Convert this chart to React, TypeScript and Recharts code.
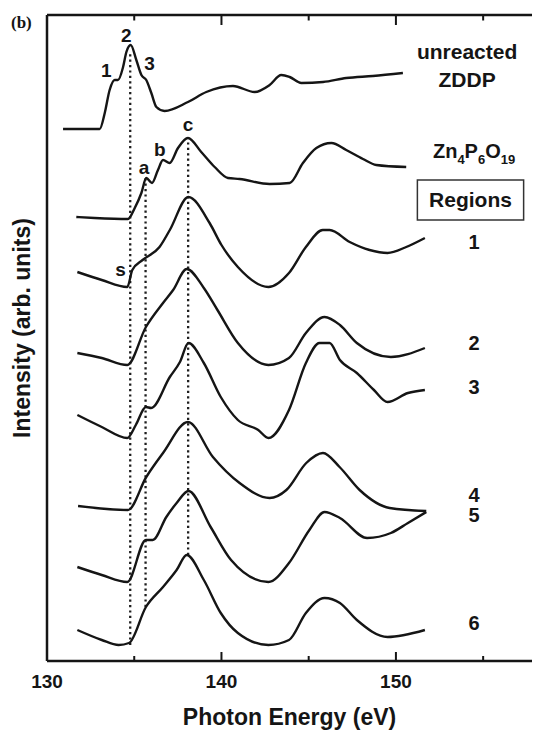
import { LineChart, Line, XAxis, YAxis, ReferenceLine, ReferenceDot, ReferenceArea } from "recharts"

const FONT = "'Liberation Sans', Arial, Helvetica, sans-serif"
const INK = "#151515"

// P L-edge XANES spectra, [photon energy (eV), offset intensity (arb. units)]
const zddp = [
  [130.92, 53.2], [133.02, 53.2], [133.31, 54.8], [133.59, 57.1], [133.88, 58.1], [134.07, 58.1],
  [134.36, 59.4], [134.55, 60.9], [134.8, 61.6], [135.12, 60.1], [135.41, 58.6], [135.69, 58.1],
  [135.98, 56.8], [136.27, 55.4], [136.74, 55.0], [138.08, 55.9], [139.13, 56.9], [140.66, 57.5],
  [141.9, 56.9], [142.76, 57.6], [143.43, 58.6], [143.91, 58.4], [144.58, 57.8], [145.82, 57.9],
  [147.15, 58.3], [148.68, 58.5], [150.4, 58.8],
]
const zn4p6o19 = [
  [131.68, 44.4], [132.73, 44.3], [134.64, 44.2], [135.03, 45.3], [135.41, 46.8], [135.69, 48.3],
  [136.02, 47.8], [136.36, 49.1], [136.65, 50.1], [137.03, 49.8], [137.51, 51.3], [138.08, 52.3],
  [138.84, 50.9], [139.61, 49.4], [140.37, 48.3], [141.04, 48.2], [142.76, 47.7], [143.91, 47.8],
  [144.67, 49.8], [145.44, 51.3], [146.3, 51.8], [147.15, 51.1], [148.11, 50.2], [148.87, 49.6],
  [150.59, 49.4],
]
const region1 = [
  [131.74, 38.9], [133.14, 38.1], [134.6, 37.4], [134.89, 39.1], [135.48, 40.1], [136.45, 41.4],
  [137.04, 43.1], [138.1, 46.4], [139.32, 43.8], [140.0, 41.6], [140.94, 39.4], [142.69, 37.4],
  [143.87, 38.8], [144.84, 41.4], [145.81, 43.1], [146.2, 43.1], [147.35, 41.9], [148.49, 41.1],
  [149.52, 40.8], [150.59, 41.4], [151.66, 42.3],
]
const region2 = [
  [131.74, 30.8], [133.14, 30.3], [134.6, 29.6], [135.67, 33.4], [136.65, 35.8], [137.23, 37.1],
  [138.01, 39.2], [138.99, 37.3], [139.77, 35.1], [140.94, 31.8], [142.69, 29.6], [143.87, 30.3],
  [144.84, 32.8], [145.91, 34.4], [146.79, 33.6], [147.76, 31.8], [149.71, 30.4], [151.66, 31.3],
]
const region3 = [
  [131.74, 24.6], [133.14, 23.4], [134.6, 22.3], [135.09, 23.6], [135.67, 25.4], [135.97, 25.3],
  [137.04, 28.4], [137.62, 29.9], [138.11, 31.8], [138.99, 29.8], [139.96, 26.4], [140.94, 24.1],
  [142.11, 23.1], [142.69, 22.3], [143.87, 25.1], [144.84, 29.8], [145.62, 31.8], [146.2, 31.8],
  [146.79, 30.1], [147.76, 28.8], [148.74, 27.1], [149.52, 25.9], [150.69, 26.8], [151.66, 27.1],
]
const region4 = [
  [131.78, 15.5], [134.64, 15.1], [135.69, 18.4], [136.65, 20.8], [138.08, 23.9], [139.51, 20.4],
  [141.04, 17.8], [142.76, 16.3], [143.72, 17.1], [144.86, 19.8], [145.82, 20.8], [146.77, 19.4],
  [147.92, 17.1], [149.64, 15.3], [151.74, 15.0],
]
const region5 = [
  [131.74, 9.4], [133.14, 8.6], [134.6, 7.9], [135.67, 12.1], [136.06, 12.1], [136.84, 14.4],
  [137.43, 15.8], [138.11, 17.0], [139.38, 13.4], [140.55, 10.1], [142.69, 7.9], [143.87, 9.8],
  [145.04, 13.1], [145.91, 14.9], [146.79, 14.3], [148.35, 12.3], [149.71, 12.8], [150.69, 13.8],
  [151.74, 14.9],
]
const region6 = [
  [131.74, 3.1], [133.14, 2.1], [134.11, 1.6], [134.7, 1.8], [135.67, 5.4], [136.65, 7.4],
  [137.43, 9.1], [138.01, 10.6], [138.99, 8.1], [139.96, 4.8], [140.94, 2.8], [142.69, 1.6],
  [143.87, 2.1], [144.84, 4.8], [145.91, 6.3], [146.79, 5.8], [147.76, 4.1], [149.52, 2.4],
  [151.66, 3.1],
]
const spectra = [zddp, zn4p6o19, region1, region2, region3, region4, region5, region6]

// dotted guide lines: [energy, lower intensity, upper intensity]
const guides = [
  [134.77, 1.6, 61.0],
  [135.65, 5.4, 48.3],
  [138.09, 10.6, 52.1],
]

// feature letters on the spectra
const featureLabels = [
  ["1", 133.4, 59.1], ["2", 134.55, 62.6], ["3", 135.88, 59.8],
  ["a", 135.56, 49.4], ["b", 136.46, 51.2], ["c", 138.08, 53.7], ["s", 134.21, 39.2],
]

const regionNames = ["1", "2", "3", "4", "5", "6"]
const regionLevels = [41.9, 31.8, 27.4, 16.6, 14.6, 3.8]
const labelEnergy = 154.48

const tickValues = [130, 135, 140, 145, 150, 155]
const tickLabels = [130, 140, 150]

const toRows = (pts: number[][]) => pts.map(([energy, intensity]) => ({ energy, intensity }))

function BottomTick(props: any) {
  const { x, y, payload } = props
  const major = tickLabels.includes(payload.value)
  return (
    <g>
      {payload.value !== 130 && (
        <line x1={x} x2={x} y1={y} y2={y - (major ? 9 : 5)} stroke={INK} strokeWidth={2} />
      )}
      {major && (
        <text x={x} y={y + 26.5} textAnchor="middle" fontSize={19} fontWeight="bold" fontFamily={FONT} fill={INK}>
          {payload.value}
        </text>
      )}
    </g>
  )
}

function TopTick(props: any) {
  const { x, y, payload } = props
  if (payload.value === 130) return <g />
  const major = tickLabels.includes(payload.value)
  return <line x1={x} x2={x} y1={y} y2={y + (major ? 10 : 5.5)} stroke={INK} strokeWidth={2} />
}

function ZnLabel(props: any) {
  const { x, y } = props.viewBox
  return (
    <text x={x} y={y} textAnchor="middle" fontSize={20} fontWeight="bold" fontFamily={FONT} fill={INK}>
      Zn<tspan fontSize={13} dy={6}>4</tspan>
      <tspan dy={-6}>P</tspan>
      <tspan fontSize={13} dy={6}>6</tspan>
      <tspan dy={-6}>O</tspan>
      <tspan fontSize={13} dy={6}>19</tspan>
    </text>
  )
}

const textStyle = { fontWeight: "bold", fontFamily: FONT, fill: INK }

export default function App() {
  return (
    <div style={{ position: "absolute", left: 0, top: 0, width: 534, height: 730, background: "#fff" }}>
      <LineChart width={534} height={730} margin={{ top: 0, right: 2, bottom: 0, left: 0 }}>
        <XAxis
          dataKey="energy"
          type="number"
          domain={[130, 157.8]}
          allowDataOverflow
          ticks={tickValues}
          interval={0}
          height={69}
          tickSize={0}
          tickMargin={0}
          tickLine={false}
          tick={<BottomTick />}
          axisLine={{ stroke: INK, strokeWidth: 2.5 }}
          label={{ value: "Photon Energy (eV)", position: "insideBottom", offset: 5, fontSize: 23, ...textStyle }}
        />
        <XAxis
          xAxisId="top"
          orientation="top"
          dataKey="energy"
          type="number"
          domain={[130, 157.8]}
          allowDataOverflow
          ticks={tickValues}
          interval={0}
          height={15}
          tickSize={0}
          tickMargin={0}
          tickLine={false}
          tick={<TopTick />}
          axisLine={{ stroke: INK, strokeWidth: 2.5 }}
        />
        <YAxis
          type="number"
          domain={[0, 64.6]}
          allowDataOverflow
          width={47}
          tick={false}
          tickLine={false}
          axisLine={{ stroke: INK, strokeWidth: 2.5 }}
          label={{
            content: () => (
              <text x={30} y={328} transform="rotate(-90 30 328)" textAnchor="middle" fontSize={23} {...textStyle}>
                Intensity (arb. units)
              </text>
            ),
          }}
        />
        <YAxis
          yAxisId="right"
          orientation="right"
          domain={[0, 64.6]}
          width={0}
          tick={false}
          tickLine={false}
          axisLine={{ stroke: "#cfcfcf", strokeWidth: 1 }}
        />

        {guides.map(([e, lo, hi], i) => (
          <ReferenceLine
            key={"g" + i}
            segment={[{ x: e, y: lo }, { x: e, y: hi }]}
            stroke="#1e1e1e"
            strokeWidth={2.3}
            strokeDasharray="2.2 3.2"
          />
        ))}

        {spectra.map((pts, i) => (
          <Line
            key={"s" + i}
            data={toRows(pts)}
            dataKey="intensity"
            type="monotone"
            dot={false}
            stroke={INK}
            strokeWidth={2.4}
            isAnimationActive={false}
          />
        ))}

        {featureLabels.map(([t, e, v]) => (
          <ReferenceDot
            key={"f" + t}
            x={e as number}
            y={v as number}
            r={0}
            fill="none"
            stroke="none"
            label={{ value: t, position: "center", fontSize: 19, ...textStyle }}
          />
        ))}

        <ReferenceDot x={labelEnergy - 0.4} y={60.9} r={0} fill="none" stroke="none"
          label={{ value: "unreacted", position: "center", fontSize: 21, ...textStyle }} />
        <ReferenceDot x={labelEnergy - 0.4} y={58.1} r={0} fill="none" stroke="none"
          label={{ value: "ZDDP", position: "center", fontSize: 21, ...textStyle }} />
        <ReferenceDot x={labelEnergy} y={50.3} r={0} fill="none" stroke="none" label={{ content: <ZnLabel /> }} />

        <ReferenceArea
          x1={151.23}
          x2={157.32}
          y1={44.1}
          y2={48.1}
          fill="#fff"
          fillOpacity={1}
          stroke="#333"
          strokeWidth={1.5}
          label={{ value: "Regions", position: "center", fontSize: 21, ...textStyle }}
        />

        {regionNames.map((n, i) => (
          <ReferenceDot
            key={"r" + n}
            x={labelEnergy}
            y={regionLevels[i]}
            r={0}
            fill="none"
            stroke="none"
            label={{ value: n, position: "center", fontSize: 20, ...textStyle }}
          />
        ))}
      </LineChart>
      <div
        style={{
          position: "absolute",
          left: 11,
          top: 14,
          fontFamily: "'Liberation Serif', 'Times New Roman', serif",
          fontWeight: "bold",
          fontSize: 17,
          lineHeight: "17px",
          color: INK,
        }}
      >
        (b)
      </div>
    </div>
  )
}
